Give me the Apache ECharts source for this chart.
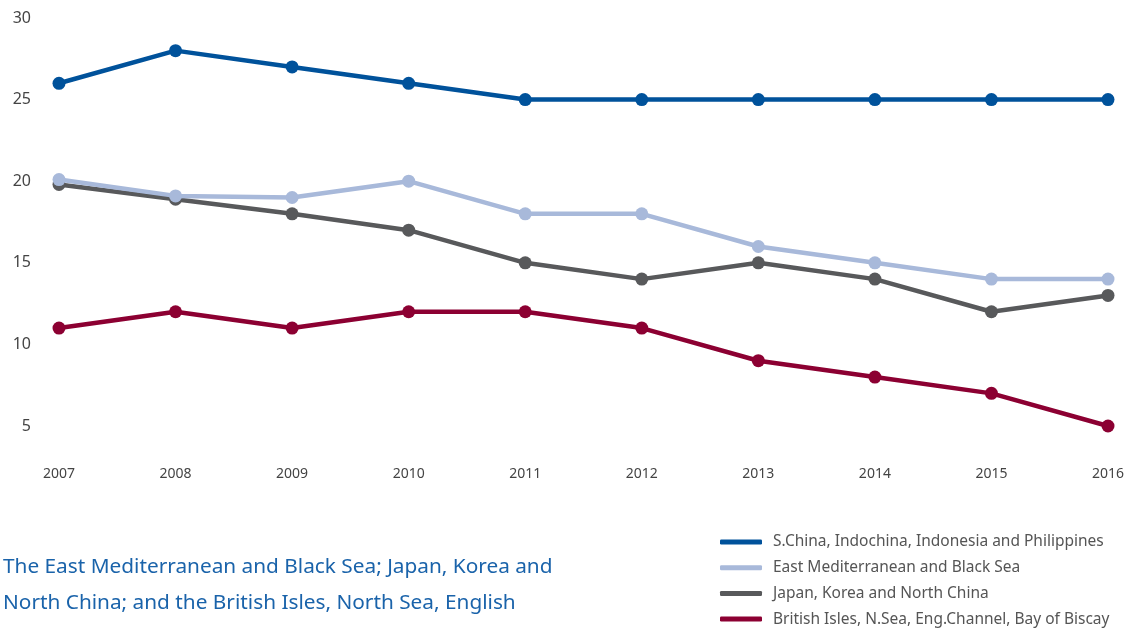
<!DOCTYPE html>
<html><head><meta charset="utf-8">
<script src="https://cdn.jsdelivr.net/npm/echarts@6/dist/echarts.min.js"></script>
<style>html,body{margin:0;padding:0;background:#fff}#c{width:1135px;height:629px}</style>
</head><body><div id="c"></div>
<script>
const years = ['2007','2008','2009','2010','2011','2012','2013','2014','2015','2016'];
const sChina = [26, 28, 27, 26, 25, 25, 25, 25, 25, 25];
const eastMed = [20.1, 19.1, 19.0, 20, 18, 18, 16, 15, 14, 14];
const japan = [19.8, 18.9, 18, 17, 15, 14, 15, 14, 12, 13];
const british = [11, 12, 11, 12, 12, 11, 9, 8, 7, 5];
const names = ['S.China, Indochina, Indonesia and Philippines','East Mediterranean and Black Sea','Japan, Korea and North China','British Isles, N.Sea, Eng.Channel, Bay of Biscay'];
const colors = ['#00529b','#a8b9da','#58595b','#8c0032'];
const caption = 'The East Mediterranean and Black Sea; Japan, Korea and\nNorth China; and the British Isles, North Sea, English\nChannel and Bay of Biscay maritime regions have all';
const FONT = '"Noto Sans", sans-serif';

const chart = echarts.init(document.getElementById('c'));
const data = [sChina, eastMed, japan, british];
chart.setOption({
  animation: false,
  textStyle: {fontFamily: FONT},
  grid: {left: 59, right: 27, top: 18, bottom: 203},
  xAxis: {type: 'category', data: years, boundaryGap: false,
    axisLine: {show: false}, axisTick: {show: false},
    axisLabel: {color: '#444', fontSize: 14, margin: 41, fontFamily: FONT}},
  yAxis: {type: 'value', min: 5, max: 30, interval: 5,
    splitLine: {show: false}, axisLine: {show: false}, axisTick: {show: false},
    axisLabel: {color: '#444', fontSize: 16, margin: 28, padding: [4,0,0,0], fontFamily: FONT}},
  legend: {orient: 'vertical', left: 720, top: 533, padding: 0, itemWidth: 42, itemHeight: 5, itemGap: 7.7,
    icon: 'roundRect',
    data: names,
    textStyle: {color: '#555', fontSize: 15.5, lineHeight: 18, padding: [0,0,0,6], fontFamily: FONT}},
  title: {text: caption, left: 3, top: 549, padding: 0,
    textStyle: {color: '#1a63aa', fontSize: 20.8, fontWeight: 'normal', lineHeight: 36, fontFamily: FONT}},
  series: data.map((d, i) => ({
    name: names[i], type: 'line', data: d, z: 10 - i,
    symbol: 'circle', symbolSize: 13,
    lineStyle: {width: 4.5, color: colors[i]},
    itemStyle: {color: colors[i]}
  }))
});
</script></body></html>
